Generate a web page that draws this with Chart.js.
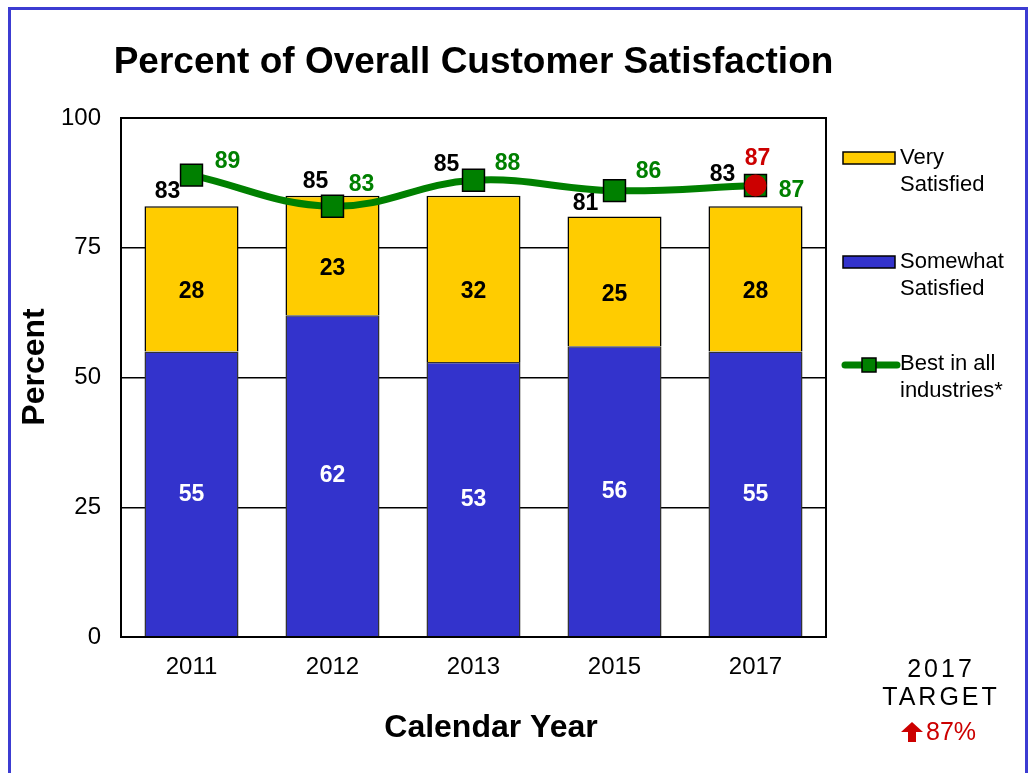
<!DOCTYPE html>
<html>
<head>
<meta charset="utf-8">
<script src="https://cdn.jsdelivr.net/npm/chart.js@4.4.1/dist/chart.umd.min.js"></script>
<style>
  html, body { margin: 0; padding: 0; background: #fff; overflow: hidden; }
  #frame { position: absolute; left: 8px; top: 7px; width: 1014px; height: 820px; border: 3px solid #3c3cd2; }
  #wrap { position: absolute; left: 0; top: 0; width: 1032px; height: 773px; }
</style>
</head>
<body>
<div id="frame"></div>
<div id="wrap"><canvas id="miGrafico" width="1032" height="773"></canvas></div>
<script>
// Datos del gráfico
const years = ['2011', '2012', '2013', '2015', '2017'];
const somewhatSatisfied = [55, 62, 53, 56, 55];
const verySatisfied = [28, 23, 32, 25, 28];
const totals = [83, 85, 85, 81, 83];
const bestInIndustry = [89, 83, 88, 86, 87];
const target2017 = [null, null, null, null, 87];
const yTicks = [0, 25, 50, 75, 100];

const FONT = '"Liberation Sans", Arial, sans-serif';
const BLUE = '#3333cc', YELLOW = '#ffcc00', GREEN = '#008000', RED = '#cc0000';

// Ajustes finos de posición de las etiquetas (solo estilo)
const totalNudge = [[-24, -15], [-17, -14], [-27, -31], [-29, -13], [-33, -32]];
const bestNudge = [[36, -13], [29, -22], [34, -17], [34, -19], [36, 5]];

const labelsPlugin = {
  id: 'labelsPlugin',
  afterDraw(chart) {
    const c = chart.ctx;
    const a = chart.chartArea;
    const x = chart.scales.x, y = chart.scales.y;
    c.save();
    // marco del área de trazado
    c.strokeStyle = '#000';
    c.lineWidth = 2;
    c.strokeRect(a.left, a.top, a.right - a.left, a.bottom - a.top);

    // título y títulos de ejes
    c.fillStyle = '#000';
    c.textAlign = 'center';
    c.textBaseline = 'middle';
    c.font = 'bold 37px ' + FONT;
    c.fillText('Percent of Overall Customer Satisfaction', (a.left + a.right) / 2, 63);
    c.font = 'bold 32px ' + FONT;
    c.fillText('Calendar Year', 491, 728);
    c.save();
    c.translate(35, 367);
    c.rotate(-Math.PI / 2);
    c.fillText('Percent', 0, 0);
    c.restore();

    c.font = 'bold 23px ' + FONT;
    years.forEach((yr, i) => {
      const cx = x.getPixelForValue(i);
      // valores dentro de las barras
      c.fillStyle = '#fff';
      c.fillText(somewhatSatisfied[i], cx, (y.getPixelForValue(0) + y.getPixelForValue(somewhatSatisfied[i])) / 2);
      c.fillStyle = '#000';
      c.fillText(verySatisfied[i], cx, (y.getPixelForValue(somewhatSatisfied[i]) + y.getPixelForValue(totals[i])) / 2 + 13);
      // total sobre la barra
      c.fillText(totals[i], cx + totalNudge[i][0], y.getPixelForValue(totals[i]) + totalNudge[i][1]);
      // mejor en la industria
      c.fillStyle = GREEN;
      c.fillText(bestInIndustry[i], cx + bestNudge[i][0], y.getPixelForValue(bestInIndustry[i]) + bestNudge[i][1]);
      if (target2017[i] != null) {
        c.fillStyle = RED;
        c.fillText(target2017[i], cx + 2, y.getPixelForValue(target2017[i]) - 27);
      }
    });

    // leyenda
    c.textAlign = 'left';
    c.font = '22px ' + FONT;
    const lx = 843, tx = 900;
    c.lineWidth = 1.5;
    c.strokeStyle = '#000';
    c.fillStyle = YELLOW;
    c.fillRect(lx, 152, 52, 12); c.strokeRect(lx, 152, 52, 12);
    c.fillStyle = BLUE;
    c.fillRect(lx, 256, 52, 12); c.strokeRect(lx, 256, 52, 12);
    c.strokeStyle = GREEN; c.lineWidth = 7; c.lineCap = 'round';
    c.beginPath(); c.moveTo(lx + 2, 365); c.lineTo(lx + 54, 365); c.stroke();
    c.fillStyle = GREEN; c.strokeStyle = '#000'; c.lineWidth = 1.5;
    c.fillRect(862, 358, 14, 14); c.strokeRect(862, 358, 14, 14);
    c.fillStyle = '#000';
    c.fillText('Very', tx, 158); c.fillText('Satisfied', tx, 185);
    c.fillText('Somewhat', tx, 262); c.fillText('Satisfied', tx, 289);
    c.fillText('Best in all', tx, 364); c.fillText('industries*', tx, 391);

    // meta 2017
    c.textAlign = 'center';
    c.font = '25px ' + FONT;
    c.letterSpacing = '3px';
    c.fillText('2017', 941, 670);
    c.fillText('TARGET', 941, 698);
    c.letterSpacing = '0px';
    c.fillStyle = RED;
    c.textAlign = 'left';
    c.font = '25px ' + FONT;
    c.fillText(target2017[4] + '%', 926, 733);
    // flecha
    c.beginPath();
    c.moveTo(912, 722); c.lineTo(923, 732); c.lineTo(916, 732); c.lineTo(916, 742);
    c.lineTo(908, 742); c.lineTo(908, 732); c.lineTo(901, 732); c.closePath();
    c.fill();
    c.restore();
  }
};

const ctx = document.getElementById('miGrafico').getContext('2d');

new Chart(ctx, {
  type: 'bar',
  data: {
    labels: years,
    datasets: [
      {
        type: 'scatter',
        label: '2017 Target',
        data: target2017,
        backgroundColor: RED,
        borderColor: RED,
        pointRadius: 10.5,
        pointStyle: 'circle',
        stack: 'target',
        order: 0
      },
      {
        type: 'line',
        label: 'Best in all industries*',
        data: bestInIndustry,
        borderColor: GREEN,
        borderWidth: 7,
        tension: 0.4,
        pointStyle: 'rect',
        pointRadius: 15.5,
        pointBackgroundColor: GREEN,
        pointBorderColor: '#000',
        pointBorderWidth: 1.5,
        stack: 'line',
        order: 1
      },
      {
        label: 'Somewhat Satisfied',
        data: somewhatSatisfied,
        backgroundColor: BLUE,
        borderColor: '#333',
        borderWidth: 1.5,
        barPercentage: 0.667,
        categoryPercentage: 1,
        stack: 'bars',
        order: 2
      },
      {
        label: 'Very Satisfied',
        data: verySatisfied,
        backgroundColor: YELLOW,
        borderColor: '#000',
        borderWidth: 1.5,
        barPercentage: 0.667,
        categoryPercentage: 1,
        stack: 'bars',
        order: 2
      }
    ]
  },
  options: {
    responsive: false,
    animation: false,
    layout: { padding: { top: 118, left: 12, right: 206, bottom: 0 } },
    plugins: {
      legend: { display: false },
      tooltip: { enabled: false },
      title: { display: false }
    },
    scales: {
      x: {
        stacked: true,
        grid: { display: false, drawTicks: false, tickLength: 0 },
        border: { display: false },
        ticks: { color: '#000', font: { family: FONT, size: 24 }, padding: 16 },
        afterFit(s) { s.height = 136; }
      },
      y: {
        stacked: true,
        min: 0,
        max: 100,
        afterBuildTicks(s) { s.ticks = yTicks.map(v => ({ value: v })); },
        grid: { color: '#000', lineWidth: 1.5, drawTicks: false, tickLength: 0 },
        border: { display: false },
        ticks: { color: '#000', font: { family: FONT, size: 24 }, padding: 20 },
        afterFit(s) { s.width = 109; }
      }
    }
  },
  plugins: [labelsPlugin]
});
</script>
</body>
</html>
